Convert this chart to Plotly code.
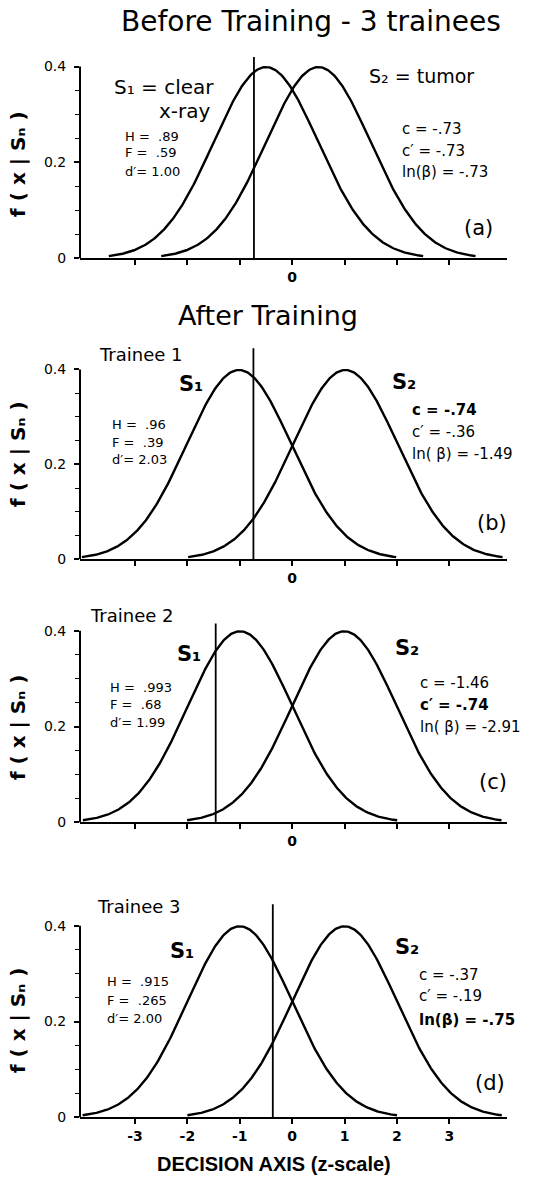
import numpy as np
import plotly.graph_objects as go

W, HPX = 540, 1188

# ---------------- data ----------------
panel_tags = ["(a)", "(b)", "(c)", "(d)"]
panel_titles = ["", "Trainee 1", "Trainee 2", "Trainee 3"]
d_prime = [1.00, 2.03, 1.99, 2.00]          # separation of S1 / S2 means
crit_c = [-0.73, -0.74, -1.46, -0.37]       # criterion location (c)
hit_text = [".89", ".96", ".993", ".915"]
fa_text = [".59", ".39", ".68", ".265"]
dprime_text = ["1.00", "2.03", "1.99", "2.00"]
c_text = ["-.73", "-.74", "-1.46", "-.37"]
cprime_text = ["-.73", "-.36", "-.74", "-.19"]
lnbeta_text = ["-.73", "-1.49", "-2.91", "-.75"]
bold_stat = [None, 0, 1, 2]                 # which of c / c' / ln(beta) is bold
x_tick_vals = [-3, -2, -1, 0, 1, 2, 3]
x_tick_text = ["-3", "-2", "-1", "0", "1", "2", "3"]
y_tick_vals = [0, 0.2, 0.4]
y_tick_text = ["0", "0.2", "0.4"]
y_minor_vals = [0.05, 0.1, 0.15, 0.25, 0.3, 0.35]

# ---------------- layout geometry (pixels) ----------------
zero_px = [260, 563, 828, 1125]
p04_px = [67, 372, 635, 932]
YTOP = 0.45
line_top = [0.42, 0.445, 0.415, 0.445]

def px(xp):
    return xp / W

def py(yp):
    return 1 - yp / HPX

FONT = "DejaVu Sans"
fig = go.Figure()
annotations = []
shapes = []
axes = {}

text_pos = [
    dict(hfx=123, hfy=[137, 154, 173], cx=400, cy=[130, 152, 173], tag=(462, 230)),
    dict(hfx=110, hfy=[427, 445, 463], cx=410, cy=[413, 435, 457], tag=(475, 527),
         title=(97, 357), s1=(177, 387), s2=(390, 385)),
    dict(hfx=108, hfy=[692, 709, 727], cx=418, cy=[688, 710, 732], tag=(477, 787),
         title=(88, 620), s1=(175, 658), s2=(393, 652)),
    dict(hfx=105, hfy=[988, 1007, 1025], cx=417, cy=[982, 1003, 1027], tag=(473, 1090),
         title=(95, 913), s1=(168, 957), s2=(393, 953)),
]
ylab_y = [165, 457, 732, 1027]

def ann(text, x, y, size, xanchor="left", family=FONT, angle=0):
    annotations.append(dict(text=text, x=px(x), y=py(y), xref="paper", yref="paper",
                            xanchor=xanchor, yanchor="middle", showarrow=False,
                            textangle=angle,
                            font=dict(family=family, size=size, color="black")))

for i in range(4):
    sfx = "" if i == 0 else str(i + 1)
    xa, ya = "x" + sfx, "y" + sfx
    half = d_prime[i] / 2
    for mu in (-half, half):
        xs = np.linspace(mu - 3, mu + 3, 301)
        ys = np.exp(-0.5 * (xs - mu) ** 2) / np.sqrt(2 * np.pi)
        fig.add_trace(go.Scatter(x=xs, y=ys, mode="lines", xaxis=xa, yaxis=ya,
                                 line=dict(color="black", width=2.4),
                                 showlegend=False, hoverinfo="skip"))
    fig.add_trace(go.Scatter(x=[crit_c[i], crit_c[i]], y=[0, line_top[i]], mode="lines",
                             xaxis=xa, yaxis=ya, line=dict(color="black", width=1.8),
                             showlegend=False, hoverinfo="skip"))
    bottom = zero_px[i]
    top = zero_px[i] - (zero_px[i] - p04_px[i]) * YTOP / 0.4
    if i == 3:
        tv, tt = x_tick_vals, x_tick_text
        minor_x = dict(tickvals=[])
    else:
        tv, tt = [0], ["0"]
        minor_x = dict(tickvals=[v for v in x_tick_vals if v != 0], ticks="outside",
                       ticklen=5, tickwidth=1.5, tickcolor="black")
    axes["xaxis" + sfx] = dict(
        domain=[px(80), px(507)], range=[-4.05, 4.1], anchor=ya,
        showline=True, linecolor="black", linewidth=2, ticks="outside", ticklen=5,
        tickwidth=1.5, tickcolor="black", tickvals=tv, ticktext=tt, minor=minor_x,
        showgrid=False, zeroline=False,
        tickfont=dict(family=FONT, size=14, color="black", weight="bold"))
    axes["yaxis" + sfx] = dict(
        domain=[py(bottom), py(top)], range=[0, YTOP], anchor=xa,
        showline=False, ticks="outside", ticklen=5, tickwidth=1.5, tickcolor="black",
        tickvals=y_tick_vals, ticktext=y_tick_text, ticklabelstandoff=5,
        minor=dict(tickvals=y_minor_vals, ticks="outside",
                   ticklen=4, tickwidth=1.2, tickcolor="black"),
        showgrid=False, zeroline=False,
        tickfont=dict(family=FONT, size=14, color="black"))
    shapes.append(dict(type="line", xref=xa + " domain", x0=0, x1=0, yref=ya,
                       y0=0, y1=0.4, line=dict(color="black", width=2)))

    tp = text_pos[i]
    hlines = ["H =  " + hit_text[i], "F =  " + fa_text[i], "d′= " + dprime_text[i]]
    for t, yy in zip(hlines, tp["hfy"]):
        ann(t, tp["hfx"], yy, 13)
    clines = ["c = " + c_text[i], "c′ = " + cprime_text[i],
              ("ln(β) = " if i in (0, 3) else "ln( β) = ") + lnbeta_text[i]]
    for k, (t, yy) in enumerate(zip(clines, tp["cy"])):
        ann("<b>" + t + "</b>" if bold_stat[i] == k else t, tp["cx"], yy, 15)
    ann(panel_tags[i], tp["tag"][0], tp["tag"][1], 21)
    if i > 0:
        ann(panel_titles[i], tp["title"][0], tp["title"][1], 18)
        ann("<b>S₁</b>", tp["s1"][0], tp["s1"][1], 21)
        ann("<b>S₂</b>", tp["s2"][0], tp["s2"][1], 21)
    ann("<b>f ( x | Sₙ )</b>", 18, ylab_y[i], 20, xanchor="center", angle=-90)

ann("S₁ = clear", 112, 88, 20)
ann("x-ray", 213, 112, 20, xanchor="right")
ann("S₂ = tumor", 367, 77, 19)
ann("Before Training - 3 trainees", 311, 22, 28, xanchor="center")
ann("After Training", 268, 318, 27, xanchor="center")
ann("<b>DECISION AXIS (z-scale)</b>", 274, 1172, 20, xanchor="center",
    family="Liberation Sans")

fig.update_layout(width=W, height=HPX, margin=dict(l=0, r=0, t=0, b=0),
                  paper_bgcolor="white", plot_bgcolor="white",
                  annotations=annotations, shapes=shapes, **axes)
fig.write_html("out.html")
